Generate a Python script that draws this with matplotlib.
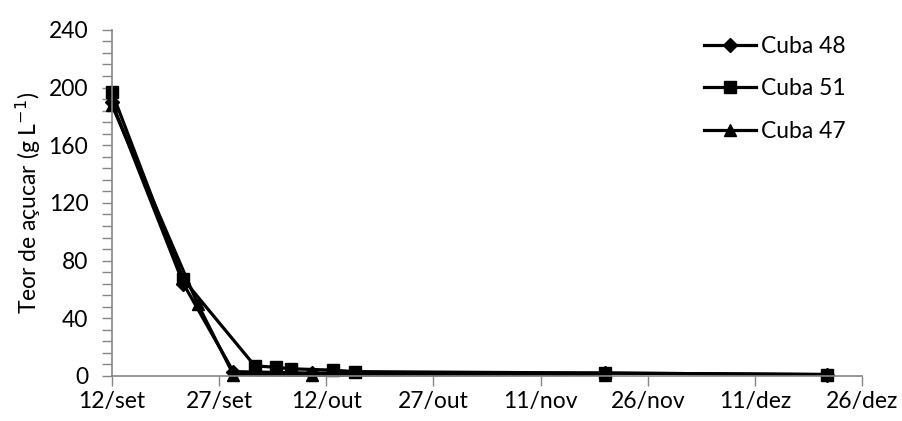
import pandas as pd
import matplotlib.pyplot as plt
from matplotlib.ticker import MultipleLocator

plt.rcParams['font.family'] = ['Lato', 'DejaVu Sans']

# datas de colheita (ano arbitrário, só dia/mês importam)
cuba48_dates = ["2012-09-12", "2012-09-22", "2012-09-29", "2012-10-10", "2012-11-20", "2012-12-21"]
cuba48_vals = [190, 64, 3, 2, 2, 1]

cuba51_dates = ["2012-09-12", "2012-09-22", "2012-10-02", "2012-10-05", "2012-10-07",
                "2012-10-13", "2012-10-16", "2012-11-20", "2012-12-21"]
cuba51_vals = [197, 67, 7, 6, 5, 4, 3, 2, 1]

cuba47_dates = ["2012-09-12", "2012-09-24", "2012-09-29", "2012-10-10", "2012-11-20"]
cuba47_vals = [188, 50, 1, 0.5, 1]

x_ticks = ["2012-09-12", "2012-09-27", "2012-10-12", "2012-10-27",
           "2012-11-11", "2012-11-26", "2012-12-11", "2012-12-26"]
x_labels = ["12/set", "27/set", "12/out", "27/out", "11/nov", "26/nov", "11/dez", "26/dez"]

grey = "#868686"
fs = 16.5

fig = plt.figure(figsize=(9.02, 4.21), dpi=100)
ax = fig.add_axes([0.124, 0.107, 0.832, 0.822])

ax.plot(pd.to_datetime(cuba48_dates), cuba48_vals, color="black", lw=2.3,
        marker="D", ms=7, label="Cuba 48")
ax.plot(pd.to_datetime(cuba51_dates), cuba51_vals, color="black", lw=2.3,
        marker="s", ms=9, label="Cuba 51")
ax.plot(pd.to_datetime(cuba47_dates), cuba47_vals, color="black", lw=2.3,
        marker="^", ms=9, label="Cuba 47")

ticks = pd.to_datetime(x_ticks)
ax.set_xlim(ticks[0], ticks[-1])
ax.set_xticks(ticks)
ax.set_xticklabels(x_labels)
ax.set_ylim(0, 240)
ax.yaxis.set_major_locator(MultipleLocator(40))
ax.yaxis.set_minor_locator(MultipleLocator(8))

for s in ["top", "right"]:
    ax.spines[s].set_visible(False)
for s in ["left", "bottom"]:
    ax.spines[s].set_color(grey)
    ax.spines[s].set_linewidth(1.2)
ax.tick_params(axis="both", which="both", color=grey, direction="out", labelsize=fs, width=1)
ax.tick_params(axis="y", which="both", length=7, pad=10)
ax.tick_params(axis="x", length=7, pad=4)
for ln in ax.lines:
    ln.set_clip_on(False)

ax.set_ylabel("Teor de açucar (g L$^{-1}$)", fontsize=fs, labelpad=4)

ax.legend(loc="upper right", bbox_to_anchor=(0.99, 1.01), frameon=False, fontsize=fs,
          handlelength=2.3, handletextpad=0.2, labelspacing=0.95, borderaxespad=0)

fig.savefig("out.png", dpi=100)
